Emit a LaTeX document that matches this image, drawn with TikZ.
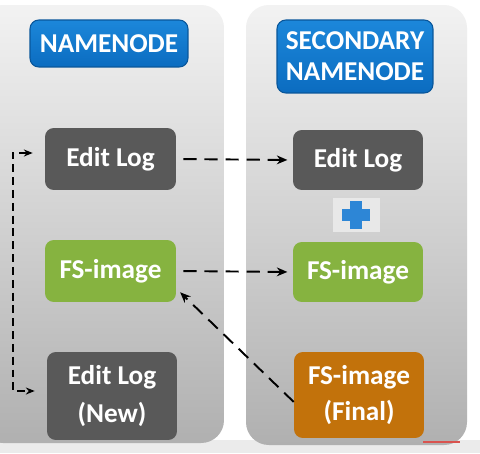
\documentclass[tikz,border=0pt]{standalone}
\usepackage{fontspec}
\setmainfont{Carlito}
\usetikzlibrary{arrows.meta}

\definecolor{nnBlue}{HTML}{0B6CC0}
\definecolor{nnBlueTop}{HTML}{1C87DA}
\definecolor{logGray}{HTML}{595959}
\definecolor{fsGreen}{HTML}{86B340}
\definecolor{fsOrange}{HTML}{C2720B}
\definecolor{plusBlue}{HTML}{2D86D6}
\definecolor{markRed}{HTML}{D9534F}

\tikzset{
  panel/.style={rounded corners=13pt, top color=black!5, bottom color=black!31, draw=none},
  box/.style={rounded corners=5pt, text=white, align=center, inner sep=0pt,
    font=\bfseries\fontsize{15.5}{20}\selectfont},
  title/.style={box, draw=nnBlue!80!black, line width=0.6pt, top color=nnBlueTop, bottom color=nnBlue},
  link/.style={dashed, dash pattern=on 7.5pt off 4.5pt, line width=1.1pt, -{Stealth[length=6pt,width=5pt]}},
  looplink/.style={dash pattern=on 4.5pt off 2.8pt, line width=0.9pt, {Stealth[length=5pt,width=4pt]}-{Stealth[length=5pt,width=4pt]}}
}

\begin{document}
\begin{tikzpicture}[x=0.02cm, y=-0.02cm]
\useasboundingbox (0,0) rectangle (480,453);
\fill[white] (0,0) rectangle (480,453);
\fill[black!8] (0,440) rectangle (480,453);

% the two panels
\shade[panel] (-20,5) rectangle (224,443);
\shade[panel] (246,5) rectangle (467,445);

% titles
\node[title, minimum width=3.16cm, minimum height=0.94cm] (nn) at (109,43.5) {NAMENODE};
\node[title, minimum width=3.12cm, minimum height=1.46cm, font=\bfseries\fontsize{15.5}{17.5}\selectfont]
  (snn) at (355,56.5) {SECONDARY\\NAMENODE};

% namenode side
\node[box, fill=logGray, minimum width=2.62cm, minimum height=1.24cm] (editA) at (110.5,159) {Edit Log};
\node[box, fill=fsGreen, minimum width=2.62cm, minimum height=1.24cm] (fsA) at (110.5,271) {FS-image};
\node[box, fill=logGray, minimum width=2.6cm, minimum height=1.76cm, font=\bfseries\fontsize{15.5}{22}\selectfont]
  (editNew) at (112,396) {Edit Log\\(New)};

% secondary side
\node[box, fill=logGray, minimum width=2.6cm, minimum height=1.2cm] (editB) at (358,160) {Edit Log};
\node[fill=black!9, minimum width=0.94cm, minimum height=0.7cm, inner sep=0pt] (plus) at (356,215) {};
\draw[plusBlue, line width=6.5pt] ([xshift=-0.28cm]plus.center) -- ([xshift=0.28cm]plus.center);
\draw[plusBlue, line width=6.5pt] ([yshift=-0.28cm]plus.center) -- ([yshift=0.28cm]plus.center);
\node[box, fill=fsGreen, minimum width=2.6cm, minimum height=1.2cm] (fsB) at (358,272) {FS-image};
\node[box, fill=fsOrange, minimum width=2.6cm, minimum height=1.72cm, font=\bfseries\fontsize{15.5}{21}\selectfont]
  (fsFinal) at (359,395) {FS-image\\(Final)};

% checkpoint arrows
\draw[link, shorten <=4pt, shorten >=3pt] (editA.east) -- (editB.west);
\draw[link, shorten <=4pt, shorten >=3pt] (fsA.east) -- (fsB.west);
\draw[link, shorten >=3pt] (fsFinal.186) -- (fsA.345);

% new edit log loop
\coordinate (loopx) at (13,270);
\draw[looplink] ([xshift=-0.24cm,yshift=0.12cm]editA.west) -| (loopx) |- ([xshift=-0.24cm,yshift=0.1cm]editNew.west);

\draw[markRed, line width=1.3pt] (423,442) -- (460,442);
\end{tikzpicture}
\end{document}
